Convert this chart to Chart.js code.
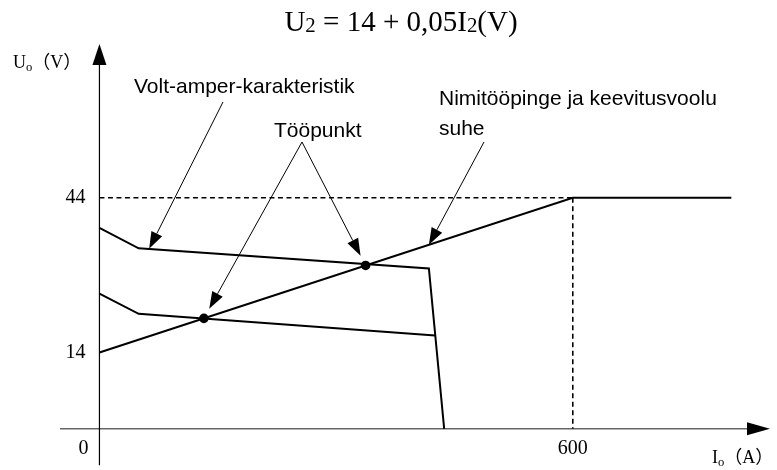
<!DOCTYPE html>
<html>
<head>
<meta charset="utf-8">
<script src="https://cdn.jsdelivr.net/npm/chart.js@4.4.0/dist/chart.umd.min.js"></script>
<style>
  html, body { margin: 0; padding: 0; background: #fff; }
  #c { display: block; }
</style>
</head>
<body>
<canvas id="c" width="777" height="470"></canvas>
<script>
// --- data (I in A, U in V) ---
const loadLine   = [[0, 14], [600, 44], [801, 44]];          // U2 = 14 + 0,05 I2, then limited at 44 V
const upperCurve = [[0, 38.15], [49.7, 34.2], [417.6, 30.3], [437, -0.8]];
const lowerCurve = [[0, 25.4], [49.7, 21.5], [425.6, 17.3]];
const workPoints = [[132.4, 20.62], [337.4, 30.87]];
const dashH      = [[0, 44], [600, 44]];
const dashV      = [[600, 44], [600, -0.8]];
const xTicks     = [0, 600];
const yTicks     = [14, 44];
const axisY0     = -0.8;   // where the I axis crosses

const pts = a => a.map(([x, y]) => ({ x, y }));

const SERIF = "'Liberation Serif', 'Times New Roman', serif";
const SANS  = "'Liberation Sans', Arial, sans-serif";

// text pieces with optional subscripts, left aligned at x
function drawParts(ctx, x, y, parts, size, subScale) {
  parts.forEach(p => {
    const fs = p.sub ? size * subScale : size;
    ctx.font = fs + 'px ' + (p.cjk ? "'Noto Sans CJK SC', sans-serif" : SERIF);
    ctx.fillText(p.t, x, y + (p.sub ? size * (p.drop || 0.15) : 0));
    x += ctx.measureText(p.t).width;
  });
}
function partsWidth(ctx, parts, size, subScale) {
  let w = 0;
  parts.forEach(p => {
    ctx.font = (p.sub ? size * subScale : size) + 'px ' + (p.cjk ? "'Noto Sans CJK SC', sans-serif" : SERIF);
    w += ctx.measureText(p.t).width;
  });
  return w;
}

function arrow(ctx, x1, y1, x2, y2, len, half) {
  const a = Math.atan2(y2 - y1, x2 - x1);
  const bx = x2 - len * Math.cos(a), by = y2 - len * Math.sin(a);
  ctx.beginPath();
  ctx.moveTo(x1, y1);
  ctx.lineTo(bx, by);
  ctx.stroke();
  ctx.beginPath();
  ctx.moveTo(x2, y2);
  ctx.lineTo(bx + half * Math.sin(a), by - half * Math.cos(a));
  ctx.lineTo(bx - half * Math.sin(a), by + half * Math.cos(a));
  ctx.closePath();
  ctx.fill();
}

const axesPlugin = {
  id: 'axesPlugin',
  beforeDatasetsDraw(chart) {
    const { ctx, chartArea: ca, scales: { x, y } } = chart;
    const x0 = x.getPixelForValue(0), yAx = y.getPixelForValue(axisY0);
    ctx.save();
    ctx.fillStyle = '#000';
    // I axis
    ctx.strokeStyle = '#666';
    ctx.lineWidth = 1.5;
    ctx.beginPath(); ctx.moveTo(ca.left, yAx); ctx.lineTo(ca.right - 20, yAx); ctx.stroke();
    ctx.beginPath();
    ctx.moveTo(ca.right, yAx); ctx.lineTo(ca.right - 23, yAx - 6.5); ctx.lineTo(ca.right - 23, yAx + 6.5);
    ctx.closePath(); ctx.fill();
    // U axis
    ctx.strokeStyle = '#000';
    ctx.lineWidth = 1.2;
    ctx.beginPath(); ctx.moveTo(x0, ca.bottom); ctx.lineTo(x0, ca.top + 18); ctx.stroke();
    ctx.beginPath();
    ctx.moveTo(x0, ca.top); ctx.lineTo(x0 - 7, ca.top + 21); ctx.lineTo(x0 + 7, ca.top + 21);
    ctx.closePath(); ctx.fill();

    // tick labels
    ctx.font = '20px ' + SERIF;
    ctx.textBaseline = 'middle';
    ctx.textAlign = 'right';
    yTicks.forEach(v => ctx.fillText(String(v), x0 - 14, y.getPixelForValue(v)));
    ctx.textAlign = 'center';
    xTicks.forEach(v => ctx.fillText(String(v), v === 0 ? x0 - 16 : x.getPixelForValue(v), yAx + 20));
    ctx.restore();
  },
  afterDatasetsDraw(chart) {
    const { ctx, scales: { x, y } } = chart;
    const px = (a) => [x.getPixelForValue(a[0]), y.getPixelForValue(a[1])];
    ctx.save();
    ctx.fillStyle = '#000';
    ctx.textBaseline = 'alphabetic';
    ctx.textAlign = 'left';

    // title
    const title = [{ t: 'U' }, { t: '2', sub: true, drop: 0.05 }, { t: ' = 14 + 0,05I' }, { t: '2', sub: true, drop: 0.05 }, { t: '(V)' }];
    const tw = partsWidth(ctx, title, 29, 0.72);
    drawParts(ctx, 401 - tw / 2, 31, title, 29, 0.72);

    // axis names
    drawParts(ctx, 13, 68, [{ t: 'U' }, { t: 'o', sub: true }, { t: '（', cjk: true }, { t: 'V' }, { t: '）', cjk: true }], 18, 0.7);
    drawParts(ctx, 712, 463, [{ t: 'I' }, { t: 'o', sub: true }, { t: '（', cjk: true }, { t: 'A' }, { t: '）', cjk: true }], 18, 0.7);

    // annotations
    ctx.font = '21px ' + SANS;
    ctx.fillText('Volt-amper-karakteristik', 134, 93);
    ctx.fillText('Tööpunkt', 274, 137);
    ctx.fillText('Nimitööpinge ja keevitusvoolu', 439, 105);
    ctx.fillText('suhe', 439, 135);

    ctx.strokeStyle = '#000';
    ctx.lineWidth = 1;
    const [vx, vy] = px([63, 34.1]);
    arrow(ctx, 223, 102, vx, vy, 17, 6);
    workPoints.forEach(p => {
      const [dx, dy] = px(p);
      const sx = 302, sy = 142;
      const d = Math.hypot(dx - sx, dy - sy);
      arrow(ctx, sx, sy, dx - (dx - sx) / d * 11, dy - (dy - sy) / d * 11, 17, 6);
    });
    const [nx, ny] = px([417.6, 34.88]);
    arrow(ctx, 484, 142, nx, ny, 17, 6);
    ctx.restore();
  }
};

const solid = { borderColor: '#000', borderWidth: 2, pointRadius: 0, showLine: true, fill: false, tension: 0 };
const dashed = { borderColor: '#000', borderWidth: 1.6, borderDash: [5, 3.5], pointRadius: 0, showLine: true, fill: false };

new Chart(document.getElementById('c'), {
  type: 'scatter',
  data: {
    datasets: [
      { label: 'dashH', data: pts(dashH), ...dashed },
      { label: 'dashV', data: pts(dashV), ...dashed },
      { label: 'upper', data: pts(upperCurve), ...solid },
      { label: 'lower', data: pts(lowerCurve), ...solid },
      { label: 'load', data: pts(loadLine), ...solid },
      { label: 'points', data: pts(workPoints), showLine: false, pointRadius: 4.8,
        pointBackgroundColor: '#000', pointBorderColor: '#000', pointBorderWidth: 0 },
    ]
  },
  options: {
    responsive: false,
    animation: false,
    devicePixelRatio: 1,
    layout: { padding: { left: 60, right: 7, top: 44, bottom: 0 } },
    plugins: { legend: { display: false }, tooltip: { enabled: false } },
    scales: {
      x: { type: 'linear', display: false, min: -50, max: 850 },
      y: { type: 'linear', display: false, min: -7.85, max: 73.8 },
    }
  },
  plugins: [axesPlugin]
});
</script>
</body>
</html>
